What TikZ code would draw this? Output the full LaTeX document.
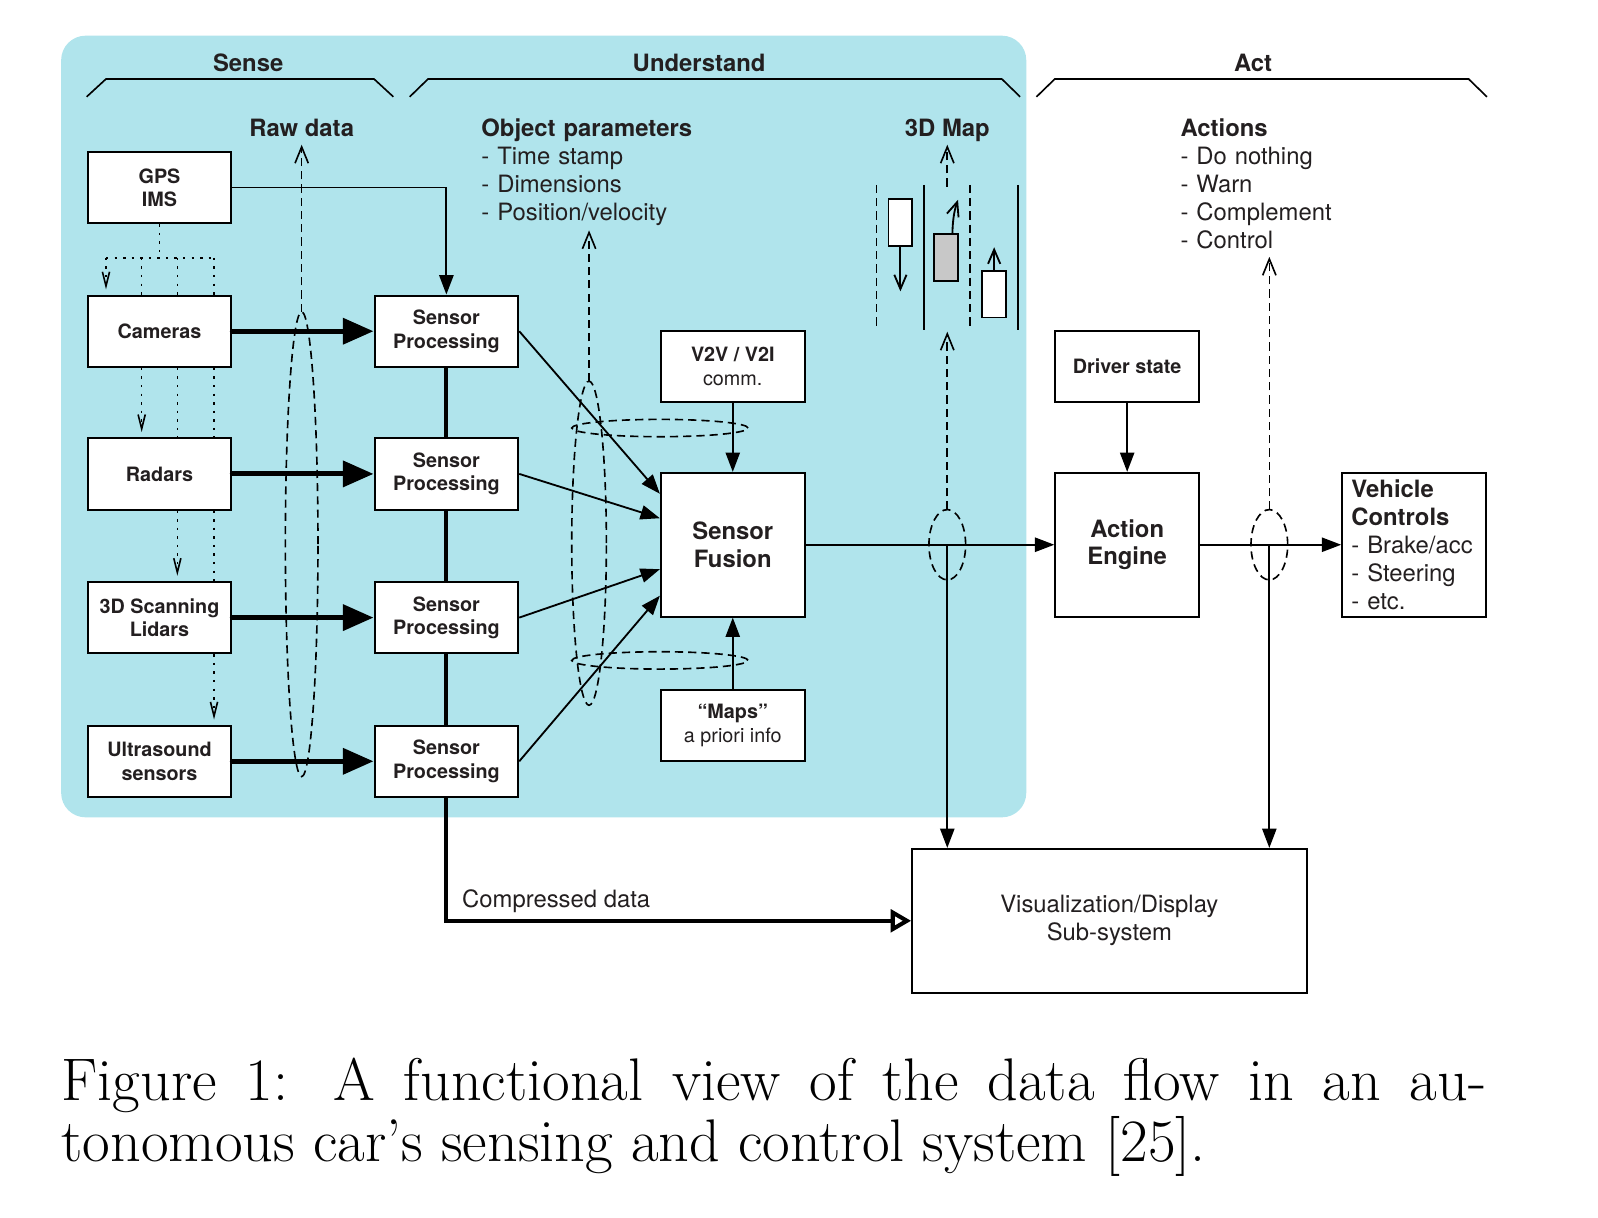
\documentclass[tikz,border=0pt]{standalone}
\usepackage{fontspec}
\setsansfont{TeX Gyre Heros}
\usepackage{tikz}
\usetikzlibrary{arrows.meta}
\definecolor{bgblue}{RGB}{176,228,236}
\definecolor{ink}{RGB}{35,31,32}
\definecolor{cargray}{RGB}{200,200,200}
\newcommand{\smallsz}{\fontsize{9.7}{11.5}\selectfont}
\newcommand{\largesz}{\fontsize{11.7}{13.7}\selectfont}

\begin{document}
\begin{tikzpicture}[x=0.5pt,y=-0.5pt,
  box/.style={draw,fill=white,line width=1pt,minimum width=70.5pt,minimum height=35pt,inner sep=0pt,align=center,font=\sffamily\bfseries\smallsz,text=ink},
  bigbox/.style={box,minimum height=70.5pt,font=\sffamily\bfseries\largesz},
  lbl/.style={font=\sffamily\bfseries\largesz,text=ink,inner sep=0pt},
  txt/.style={font=\sffamily\largesz,text=ink,inner sep=0pt},
  arr/.style={line width=0.9pt,-{Triangle[length=9.5pt,width=7pt]}},
  fat/.style={line width=2.5pt,line cap=round,-{Triangle[length=15pt,width=12.5pt]}},
  dsh/.style={line width=0.8pt,dash pattern=on 4pt off 2.5pt},
  dsharr/.style={dsh,-{Straight Barb[length=8pt,width=6.5pt]}},
  dot/.style={line width=0.8pt,dash pattern=on 1.2pt off 3pt},
  dotarr/.style={dot,shorten >=2.5pt,-{Straight Barb[length=7pt,width=3.5pt]}},
  thinarr/.style={line width=0.9pt,-{Straight Barb[length=7pt,width=6pt]}},
  car/.style={draw,line width=0.9pt,minimum width=11.75pt,minimum height=23pt,inner sep=0pt}]
\useasboundingbox (0,0) rectangle (1568,1195);
\fill[bgblue,rounded corners=12pt] (60,35) rectangle (1007,802);

% stages
\draw[line width=0.8pt] (85,95) -- (104,77.5) -- (367,77.5) -- (386,95);
\draw[line width=0.8pt] (402,95) -- (420,77.5) -- (983,77.5) -- (1001,95);
\draw[line width=0.8pt] (1017,95) -- (1035,77.5) -- (1441,77.5) -- (1459,95);
\node[lbl,anchor=base] (sense) at (243.5,70.3) {Sense};
\node[lbl,anchor=base] (underst) at (686,70.3) {Understand};
\node[lbl,anchor=base] (actlbl) at (1229.5,70.3) {Act};

% sensors
\node[box] (gps) at (156.5,184) {GPS\\IMS};
\node[box] (cam) at (156.5,325) {Cameras};
\node[box] (rad) at (156.5,465) {Radars};
\node[box] (lid) at (156.5,606) {3D Scanning\\Lidars};
\node[box] (ult) at (156.5,747) {Ultrasound\\sensors};

\node[box] (sp1) at (438,325) {Sensor\\Processing};
\node[box] (sp2) at (438,465) {Sensor\\Processing};
\node[box] (sp3) at (438,606) {Sensor\\Processing};
\node[box] (sp4) at (438,747) {Sensor\\Processing};

\node[box] (v2v) at (719,359.5) {V2V / V2I\\{\mdseries comm.}};
\node[bigbox] (fus) at (719,534.5) {Sensor\\Fusion};
\node[box] (maps) at (719,712) {“Maps”\\{\mdseries a priori info}};

\node[box] (drv) at (1106,359.5) {Driver state};
\node[bigbox] (act) at (1106,534.5) {Action\\Engine};
\node[bigbox,align=left,text width=61.5pt,inner xsep=4.5pt,inner ysep=0pt] (vc) at (1387.5,534.5)
  {Vehicle\\Controls\\{\mdseries - Brake/acc}\\{\mdseries - Steering}\\{\mdseries - etc.}};
\node[draw,fill=white,line width=1pt,minimum width=193.5pt,minimum height=70.5pt,align=center,font=\sffamily\largesz,text=ink] (vis) at (1088.5,903.5)
  {Visualization/Display\\Sub-system};

% GPS/IMS to the other sensors
\coordinate (tree) at (156.5,253);
\coordinate (t1) at (104,253);
\coordinate (t2) at (139,253);
\coordinate (t3) at (174,253);
\coordinate (t4) at (210,253);
\draw[dot] (gps.south) -- (tree);
\draw[dot] (t1) -- (t4);
\draw[dotarr] (t1) -- (t1 |- cam.north);
\foreach \t in {t2,t3,t4} \draw[dot] (\t) -- (\t |- cam.north);
\draw[dotarr] (t2 |- cam.south) -- (t2 |- rad.north);
\foreach \t in {t3,t4} \draw[dot] (\t |- cam.south) -- (\t |- rad.north);
\draw[dotarr] (t3 |- rad.south) -- (t3 |- lid.north);
\draw[dot] (t4 |- rad.south) -- (t4 |- lid.north);
\draw[dotarr] (t4 |- lid.south) -- (t4 |- ult.north);

\draw[arr] (gps.east) -| (sp1.north);
\draw[fat] (cam.east) -- (sp1.west);
\draw[fat] (rad.east) -- (sp2.west);
\draw[fat] (lid.east) -- (sp3.west);
\draw[fat] (ult.east) -- (sp4.west);
\draw[line width=2pt] (sp1.south) -- (sp2.north);
\draw[line width=2pt] (sp2.south) -- (sp3.north);
\draw[line width=2pt] (sp3.south) -- (sp4.north);
\draw[line width=2pt,-{Triangle[open,length=10pt,width=11pt]}] (sp4.south) |- (vis.west);
\node[txt,anchor=base west] (comp) at (453,890) {Compressed data};

\draw[arr] (sp1.east) -- ([yshift=25pt]fus.west);
\draw[arr] (sp2.east) -- ([yshift=13pt]fus.west);
\draw[arr] (sp3.east) -- ([yshift=-12pt]fus.west);
\draw[arr] (sp4.east) -- ([yshift=-25pt]fus.west);
\draw[arr] (v2v.south) -- (fus.north);
\draw[arr] (maps.north) -- (fus.south);
\draw[arr] (fus.east) -- (act.west);
\draw[arr] (drv.south) -- (act.north);
\draw[arr] (act.east) -- (vc.west);

\coordinate (mapc) at (929.5,534.5);
\coordinate (actc) at (1245.5,534.5);
\draw[arr] (mapc) -- (mapc |- vis.north);
\draw[arr] (actc) -- (actc |- vis.north);

% data taps
\coordinate (rawc) at (296,534);
\coordinate (objc) at (578,533);
\coordinate (rawtip) at (296,142);
\coordinate (objtip) at (578,226);
\coordinate (maptip) at (929.5,325.5);
\coordinate (map3dtip) at (929.5,142);
\coordinate (acttip) at (1245.5,252);
\draw[dsh] (rawc) ellipse [x radius=8pt,y radius=114pt];
\draw[dsharr] ([yshift=114pt]rawc) -- (rawtip);
\draw[dsh] (objc) ellipse [x radius=8.5pt,y radius=79.5pt];
\draw[dsharr] ([yshift=79.5pt]objc) -- (objtip);
\draw[dsh] (647.5,420) ellipse [x radius=43.25pt,y radius=4.25pt];
\draw[dsh] (647.5,648) ellipse [x radius=43.25pt,y radius=4.25pt];
\draw[dsh] (mapc) ellipse [x radius=9pt,y radius=17.25pt];
\draw[dsharr] ([yshift=17.25pt]mapc) -- (maptip);
\draw[dsh] (actc) ellipse [x radius=9pt,y radius=17.25pt];
\draw[dsharr] ([yshift=17.25pt]actc) -- (acttip);

\node[lbl,anchor=base] (raw) at (296,133.5) {Raw data};
\node[txt,anchor=base west,text width=110pt,align=left] (obj) at (472,134)
  {\textbf{Object parameters}\\- Time stamp\\- Dimensions\\- Position/velocity};
\node[lbl,anchor=base] (map3d) at (929.5,133.5) {3D Map};
\node[txt,anchor=base west,text width=90pt,align=left] (acts) at (1158,134)
  {\textbf{Actions}\\- Do nothing\\- Warn\\- Complement\\- Control};

% 3D map
\draw[dsh] (860,181.5) -- (860,324);
\draw[line width=0.9pt] (907,181.5) -- (907,324);
\draw[dsh] (952,181.5) -- (952,324);
\draw[line width=0.9pt] (999,181.5) -- (999,324);
\draw[dsharr] (929.5,183) -- (map3dtip);
\node[car,fill=white] (car1) at (883.5,218) {};
\node[car,fill=cargray] (car2) at (928.5,253) {};
\node[car,fill=white] (car3) at (975.5,288.5) {};
\draw[thinarr] (car1.south) -- ++(0,44);
\draw[thinarr] ([xshift=3pt]car2.north) .. controls (935,212) and (937,205) .. (940,196);
\draw[thinarr] (car3.north) -- ++(0,-22);

% caption
\node[anchor=base west,inner sep=0pt,font=\fontsize{29.5}{32}\selectfont] (cap1) at (60,1080)
  {\makebox[699pt][s]{Figure 1: A functional view of the data flow in an au-}};
\node[anchor=base west,inner sep=0pt,font=\fontsize{29.5}{32}\selectfont] (cap2) at (60,1140)
  {tonomous car’s sensing and control system [25].};
\end{tikzpicture}
\end{document}
